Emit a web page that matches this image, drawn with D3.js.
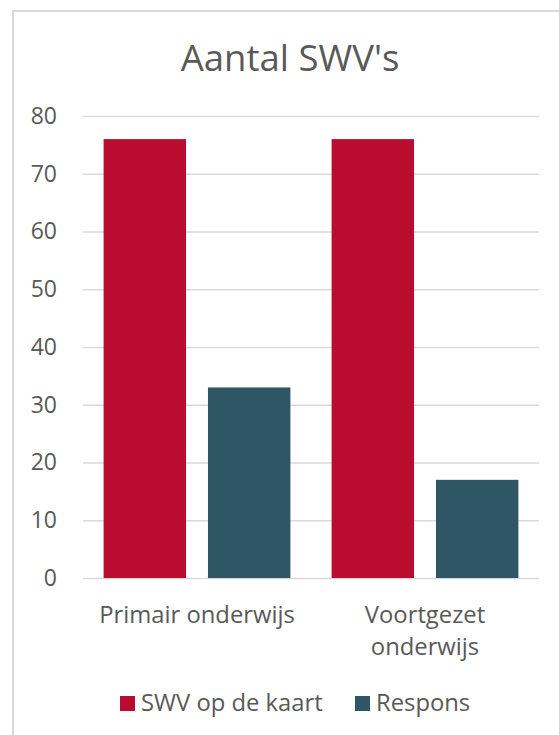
<!DOCTYPE html>
<html>
<head>
<meta charset="utf-8">
<script src="https://cdn.jsdelivr.net/npm/d3@7"></script>
<style>
  body { margin: 0; background: #fff; }
  text { font-family: "Open Sans", sans-serif; fill: #595959; }
</style>
</head>
<body>
<div id="chart"></div>
<script>
var categories = [["Primair onderwijs"], ["Voortgezet", "onderwijs"]];
var seriesNames = ["SWV op de kaart", "Respons"];
var swvOpDeKaart = [76, 76];
var respons = [33, 17];
var yTicks = [0, 10, 20, 30, 40, 50, 60, 70, 80];
var colors = ["#ba0c2f", "#2e5665"];

var w = 559, h = 735;
var svg = d3.select("#chart").append("svg")
    .attr("width", w)
    .attr("height", h);

// chart area border (runs off the right and bottom of the picture)
svg.append("rect")
    .attr("x", 13).attr("y", 11)
    .attr("width", 600).attr("height", 800)
    .attr("fill", "none")
    .attr("stroke", "#d9d9d9")
    .attr("stroke-width", 2);

svg.append("text")
    .attr("x", 290).attr("y", 71)
    .attr("text-anchor", "middle")
    .style("font-size", "36.5px")
    .text("Aantal SWV's");

var plotLeft = 83, plotRight = 539, plotTop = 116, plotBottom = 578;

var x0 = d3.scaleBand()
    .domain(d3.range(categories.length))
    .range([plotLeft, plotRight])
    .paddingInner(0)
    .paddingOuter(0);

var x1 = d3.scaleBand()
    .domain(d3.range(seriesNames.length))
    .range([20.6, x0.bandwidth() - 20.6])
    .paddingInner(0.21);

var y = d3.scaleLinear()
    .domain([0, 80])
    .range([plotBottom, plotTop]);

var yaxis = d3.axisLeft(y)
    .tickValues(yTicks)
    .tickSize(-(plotRight - plotLeft))
    .tickPadding(26);

var gY = svg.append("g")
    .attr("transform", "translate(" + plotLeft + ",0)")
    .call(yaxis);
gY.select(".domain").remove();
gY.selectAll("line").attr("stroke", "#d9d9d9").attr("stroke-width", 1.5);
gY.selectAll("text").style("font-size", "23px").style("font-family", "Open Sans").attr("fill", "#595959");

var table = seriesNames.map(function (s, i) {
    return i == 0 ? swvOpDeKaart : respons;
});

var groups = svg.selectAll("g.cat")
    .data(categories)
    .enter().append("g")
    .attr("class", "cat")
    .attr("transform", function (d, i) { return "translate(" + x0(i) + ",0)"; });

groups.selectAll("rect")
    .data(function (d, i) { return table.map(function (s) { return s[i]; }); })
    .enter().append("rect")
    .attr("x", function (d, j) { return x1(j); })
    .attr("width", x1.bandwidth())
    .attr("y", function (d) { return y(d); })
    .attr("height", function (d) { return plotBottom - y(d); })
    .attr("fill", function (d, j) { return colors[j]; });

groups.append("text")
    .attr("text-anchor", "middle")
    .attr("x", x0.bandwidth() / 2)
    .attr("y", 622.5)
    .style("font-size", "23.8px")
    .selectAll("tspan")
    .data(function (d) { return d; })
    .enter().append("tspan")
    .attr("x", x0.bandwidth() / 2)
    .attr("dy", function (d, i) { return i == 0 ? 0 : 32; })
    .text(function (d) { return d; });

var legendX = [120, 355];
var legend = svg.selectAll("g.legend")
    .data(seriesNames)
    .enter().append("g")
    .attr("class", "legend")
    .attr("transform", function (d, i) { return "translate(" + legendX[i] + ",696)"; });
legend.append("rect")
    .attr("width", 15).attr("height", 15)
    .attr("fill", function (d, i) { return colors[i]; });
legend.append("text")
    .attr("x", 21).attr("y", 15)
    .style("font-size", "23.8px")
    .text(function (d) { return d; });
</script>
</body>
</html>
